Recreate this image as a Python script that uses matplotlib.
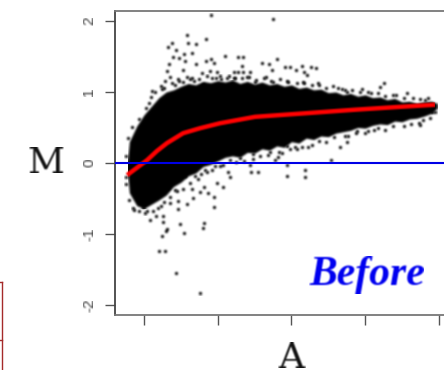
import matplotlib
matplotlib.use("Agg")
import numpy as np
import matplotlib.pyplot as plt
from matplotlib.lines import Line2D

# dense cloud outline
env_A = [5.55, 5.6, 5.8, 6.0, 6.2, 6.4, 6.6, 6.8, 7.0, 7.2, 7.4, 7.6, 7.8, 8.0, 8.2, 8.4, 8.6, 8.8, 9.0, 9.2, 9.4, 9.6, 9.8,
         10.0, 10.2, 10.4, 10.6, 10.8, 11.0, 11.2, 11.4, 11.6, 11.8, 12.0, 12.2, 12.4, 12.6, 12.8, 13.0, 13.2, 13.4, 13.6, 13.8, 13.95]
env_upper = [0.0, 0.30, 0.52, 0.68, 0.80, 0.92, 1.00, 1.03, 1.08, 1.12, 1.10, 1.15, 1.13, 1.16, 1.14, 1.17, 1.12, 1.15, 1.11, 1.14, 1.10, 1.12, 1.08,
             1.10, 1.05, 1.07, 1.03, 1.04, 0.99, 1.00, 0.96, 0.98, 0.94, 0.96, 0.92, 0.93, 0.89, 0.91, 0.86, 0.87, 0.84, 0.86, 0.87, 0.84]
env_lower = [-0.10, -0.42, -0.60, -0.64, -0.58, -0.52, -0.45, -0.33, -0.27, -0.18, -0.14, -0.05, -0.02, 0.03, 0.08, 0.10, 0.08, 0.15, 0.14, 0.20, 0.18, 0.24, 0.22,
             0.30, 0.28, 0.35, 0.33, 0.38, 0.37, 0.42, 0.44, 0.46, 0.50, 0.49, 0.53, 0.55, 0.54, 0.59, 0.58, 0.62, 0.63, 0.66, 0.70, 0.77]

# points on the rough edge of the cloud
edge_A = [6.30, 6.45, 6.55, 6.75, 6.85, 6.95, 7.05, 7.25, 7.35, 7.50, 7.7, 7.95, 8.05, 8.3, 8.45, 8.65, 8.85, 9.05, 9.25, 9.45, 9.7, 9.9,
          10.15, 10.35, 10.55, 10.75, 10.95, 11.25, 11.45, 11.65, 11.85, 12.15, 12.35, 12.55, 12.85, 13.05, 13.3, 13.5, 13.7,
          5.5, 5.52, 5.55, 5.68, 5.85, 6.05, 6.12, 5.52,
          5.6, 5.72, 5.85, 6.02, 6.25, 6.45, 6.55, 6.7, 6.9, 7.05, 7.25, 7.45, 7.55, 7.7, 7.85, 8.05, 8.15, 8.5, 8.7, 8.95, 9.15, 9.35, 9.65, 9.95,
          10.15, 10.55, 10.75, 10.95, 11.15, 11.45, 11.75, 12.0, 12.25, 12.55, 12.75, 13.05, 13.25, 13.45, 13.75, 13.9]
edge_M = [1.00, 1.08, 1.05, 1.12, 1.10, 1.15, 1.14, 1.18, 1.16, 1.18, 1.22, 1.20, 1.22, 1.22, 1.20, 1.19, 1.21, 1.17, 1.19, 1.16, 1.18, 1.14,
          1.13, 1.12, 1.10, 1.10, 1.05, 1.05, 1.03, 1.03, 1.00, 0.98, 0.98, 0.95, 0.96, 0.92, 0.91, 0.90, 0.92,
          0.10, -0.20, 0.35, 0.50, 0.62, 0.78, 0.85, -0.30,
          -0.52, -0.66, -0.68, -0.70, -0.68, -0.60, -0.55, -0.48, -0.40, -0.36, -0.28, -0.22, -0.15, -0.12, -0.10, -0.04, -0.03, 0.02, 0.03, 0.06, 0.10, 0.11, 0.15, 0.20,
          0.20, 0.26, 0.31, 0.30, 0.36, 0.38, 0.42, 0.42, 0.47, 0.47, 0.52, 0.52, 0.55, 0.57, 0.63, 0.72]

# individually visible points
pts_A = [7.82, 7.17, 6.76, 6.65, 7.19, 7.41, 7.68, 6.87, 7.09, 7.30, 6.95, 6.79, 7.11, 7.68, 7.82, 7.90, 6.68, 7.41, 6.62, 7.06,
         7.57, 7.79, 7.98, 6.22, 6.19, 6.57, 6.71, 6.92, 7.17, 7.30, 6.49, 7.60, 7.84, 8.09,
         9.50, 8.20, 8.55, 8.69, 8.66, 9.20, 9.61, 9.39, 9.47, 9.82, 9.96, 10.12, 10.29, 10.34, 10.42, 10.66, 10.53,
         8.44, 8.55, 8.69, 8.87, 8.79, 9.31, 8.25, 8.47, 9.01, 9.50, 9.88, 10.31, 10.72, 11.13,
         12.51, 12.40, 13.13, 11.91, 12.08, 11.37, 11.51, 12.75, 13.62,
         11.51, 11.32, 11.78, 13.57, 13.81, 13.49, 11.53, 12.08, 12.35,
         6.16, 6.33, 6.52, 6.52, 6.98, 6.92, 6.92, 7.17, 7.33, 7.90, 7.90, 7.74, 7.52, 7.63, 7.30, 7.98, 8.14, 7.63, 7.60, 6.62,
         5.70, 5.97, 6.08, 6.38, 6.71, 6.84, 6.65, 7.11, 7.38, 7.65, 7.93,
         6.87, 7.52, 6.41, 6.57, 6.49, 6.60, 7.09,
         8.28, 8.33, 8.90, 9.09, 9.88, 10.37, 10.37, 9.88, 8.87, 11.07, 9.63, 9.55, 9.74, 9.42, 10.29, 10.45, 9.88, 10.10, 8.60, 8.96, 8.33]
pts_M = [2.08, 1.80, 1.69, 1.63, 1.69, 1.68, 1.75, 1.59, 1.53, 1.55, 1.48, 1.49, 1.44, 1.44, 1.46, 1.41, 1.39, 1.39, 1.30, 1.31,
         1.27, 1.30, 1.28, 1.01, 0.93, 1.15, 1.21, 1.18, 1.21, 1.20, 1.04, 1.10, 1.20, 1.18,
         2.03, 1.51, 1.49, 1.49, 1.37, 1.41, 1.46, 1.39, 1.31, 1.35, 1.35, 1.31, 1.37, 1.28, 1.24, 1.34, 1.35,
         1.28, 1.28, 1.28, 1.28, 1.21, 1.21, 1.20, 1.20, 1.14, 1.14, 1.15, 1.14, 1.13, 1.08,
         1.13, 1.07, 0.99, 1.04, 1.00, 1.04, 1.00, 0.96, 0.89,
         0.30, 0.23, 0.45, 0.61, 0.72, 0.54, 0.38, 0.45, 0.49,
         -0.80, -0.75, -0.75, -0.83, -0.86, -0.65, -0.54, -0.58, -0.49, -0.62, -0.48, -0.42, -0.41, -0.34, -0.37, -0.28, -0.34, -0.84, -0.92, -0.93,
         -0.63, -0.62, -0.68, -0.63, -0.56, -0.38, -0.35, -0.18, -0.18, -0.10, -0.04,
         -1.55, -1.83, -1.24, -1.24, -1.03, -0.96, -0.99,
         -0.13, -0.20, -0.13, -0.13, -0.18, -0.10, -0.20, -0.03, -0.03, 0.04, 0.08, 0.04, 0.14, 0.15, 0.23, 0.23, 0.24, 0.23, 0.07, 0.13, 0.04]

# fitted curve
fit_A = [5.54, 6.08, 6.35, 6.62, 6.84, 7.06, 7.52, 8.06, 9.01, 10.37, 11.72, 12.92, 13.89]
fit_M = [-0.17, 0.04, 0.17, 0.28, 0.35, 0.42, 0.49, 0.56, 0.65, 0.70, 0.75, 0.79, 0.82]

x_ticks = [6, 8, 10, 12, 14]
y_ticks = [-2, -1, 0, 1, 2]
y_labels = ["-2", "-1", "0", "1", "2"]


def soften(image, dpi):
    """Slight blur, as the reference picture is a soft low-resolution scan."""
    img = image.astype(float)
    a = img[..., 3:4]
    pm = np.concatenate([img[..., :3] * a, a], axis=2)
    pad = np.pad(pm, ((1, 1), (1, 1), (0, 0)), mode="edge")
    v = (pad[:-2, :, :] + 2 * pad[1:-1, :, :] + pad[2:, :, :]) / 4
    h = (v[:, :-2, :] + 2 * v[:, 1:-1, :] + v[:, 2:, :]) / 4
    out = h.copy()
    al = np.clip(h[..., 3:4], 1e-6, None)
    out[..., :3] = np.clip(h[..., :3] / al, 0, 1)
    return out.astype(image.dtype), 0, 0


W, H = 444, 370
fig = plt.figure(figsize=(W / 100, H / 100), dpi=100, facecolor="white")
ax = fig.add_axes([115 / W, (H - 315) / H, (W - 115) / W, 304 / H])
ax.set_xlim(5.21, 14.14)
ax.set_ylim(-2.14, 2.14)

cloud = ax.fill_between(env_A, env_lower, env_upper, color="black", lw=0, zorder=2)
edge = ax.scatter(edge_A, edge_M, s=5.5, c="black", lw=0, zorder=2)
dots = ax.scatter(pts_A, pts_M, s=5.5, c="black", lw=0, zorder=2)
fit, = ax.plot(fit_A, fit_M, color="#ff0000", lw=3.2, solid_capstyle="butt", zorder=3)
ax.axhline(0, color="#0000e6", lw=1.5, zorder=4)
for art in (cloud, edge, dots, fit):
    art.set_agg_filter(soften)

ax.spines["right"].set_visible(False)
ax.spines["left"].set_color("#444444")
ax.spines["left"].set_linewidth(1.3)
for s in ("top", "bottom"):
    ax.spines[s].set_color("#777777")
    ax.spines[s].set_linewidth(1.3)

ax.set_xticks(x_ticks)
ax.set_xticklabels([])
ax.set_yticks(y_ticks)
ax.set_yticklabels(y_labels, rotation=90, va="center", family="Liberation Sans", fontsize=11, color="#444444")
ax.tick_params(axis="x", length=7.5, width=1.0, color="#555555")
ax.tick_params(axis="y", length=7.5, width=1.0, color="#555555", pad=6)
for lab in ax.get_yticklabels():
    lab.set_agg_filter(soften)

ax.set_ylabel("M", rotation=0, family="DejaVu Serif", fontsize=26, color="#111111", ha="center", va="baseline")
ax.yaxis.set_label_coords((46 - 115) / (W - 115), (315 - 173) / 304)
ax.set_xlabel("A", family="DejaVu Serif", fontsize=26, color="#111111", ha="center", va="baseline")
ax.xaxis.set_label_coords((291 - 115) / (W - 115), (315 - 368) / 304)
ax.yaxis.label.set_agg_filter(soften)
ax.xaxis.label.set_agg_filter(soften)

before = ax.text(10.48, -1.72, "Before", family="Liberation Serif", style="italic", weight="bold",
                 fontsize=30, color="#0000f0", ha="left", va="baseline", zorder=5)
before.set_agg_filter(soften)

red = "#a52a2a"
fig.add_artist(Line2D([2 / W, 2 / W], [0, (H - 282) / H], color=red, lw=1.0))
fig.add_artist(Line2D([0, 2 / W], [(H - 282) / H, (H - 282) / H], color=red, lw=1.0))
fig.add_artist(Line2D([0, 2 / W], [(H - 340) / H, (H - 340) / H], color=red, lw=1.0))

fig.savefig("out.png", dpi=100, facecolor="white")
